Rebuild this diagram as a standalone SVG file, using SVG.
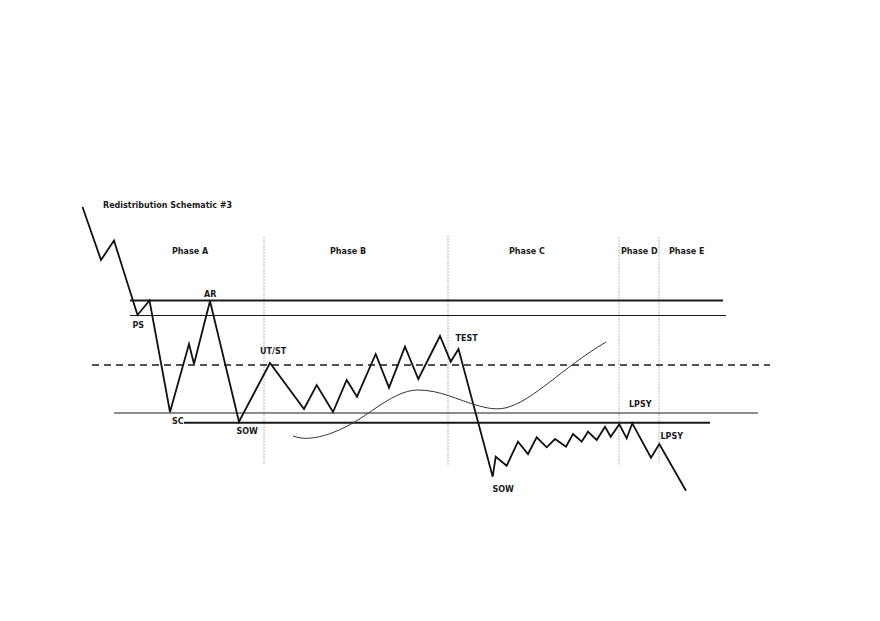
<svg xmlns="http://www.w3.org/2000/svg" width="880" height="621" viewBox="0 0 880 621">
<style>
text{font-family:"DejaVu Sans","Liberation Sans",sans-serif;font-weight:bold;font-size:8px;fill:#1a1a1a}
.thick{stroke:#1a1a1a;stroke-width:2;fill:none}
.thin{stroke:#1a1a1a;stroke-width:1.2;fill:none}
.dash{stroke:#1a1a1a;stroke-width:1.5;stroke-dasharray:7 5;fill:none}
.vdot{stroke:#b8b8b8;stroke-width:1;stroke-dasharray:2 1;fill:none}
.price{stroke:#111;stroke-width:1.8;fill:none;stroke-linejoin:miter}
.curve{stroke:#333;stroke-width:1;fill:none}
</style>
<rect width="880" height="621" fill="#fff"/>
<g id="phase-dividers">
<line class="vdot" x1="264" y1="237" x2="264" y2="465"/>
<line class="vdot" x1="448" y1="235" x2="448" y2="466"/>
<line class="vdot" x1="619" y1="237" x2="619" y2="466"/>
<line class="vdot" x1="659" y1="237" x2="659" y2="463"/>
</g>
<g id="levels">
<line class="thick" x1="130" y1="300.5" x2="723" y2="300.5"/>
<line class="thin" x1="130" y1="315.5" x2="726" y2="315.5"/>
<line class="dash" x1="92" y1="365" x2="770" y2="365"/>
<line class="thin" x1="114" y1="413" x2="758" y2="413"/>
<line class="thick" x1="184" y1="422.7" x2="710" y2="422.7"/>
</g>
<g id="connectors">
<polyline id="price" class="price" points="82.5,207 101,260 114,240.5 137.5,315 149.5,300.5 170,412 189,344 194,364 210,301 239,421.7 270,363 304,409 316.7,385 333,412 346.7,380 357,396.7 375.7,354 389,387.7 405,346.7 418.3,379 440,336 450.7,361.7 458.5,349 492.7,476.7 495.7,456.7 506.7,465.7 518,441.7 528,454 536.7,437.3 546.7,447.3 555,439 566,446.7 573,434 581.7,441.7 588,431.7 596.7,440 605,426.7 610.7,436.7 619.3,424.3 626.7,438.3 632.3,423.3 651,457.7 659.3,444 686,490.7"/>
<path id="trend-curve" class="curve" d="M293,436 C313,444 345,430 370,412 C390,398 404,390 418,390 C440,390 458,400 476,405 C486,408 495,410 505,408 C532,402 562,368 606,342"/>
</g>
<g id="labels">
<text x="103" y="207.5">Redistribution Schematic #3</text>
<text x="172" y="254">Phase A</text>
<text x="330" y="254">Phase B</text>
<text x="509" y="254">Phase C</text>
<text x="621" y="254">Phase D</text>
<text x="669" y="254">Phase E</text>
<text x="204" y="296.5">AR</text>
<text x="132.5" y="327.5">PS</text>
<text x="172" y="423.5">SC</text>
<text x="236.5" y="434">SOW</text>
<text x="260" y="353.5">UT/ST</text>
<text x="455.5" y="340.5">TEST</text>
<text x="492.5" y="491.5">SOW</text>
<text x="629" y="406.5">LPSY</text>
<text x="660.5" y="438.5">LPSY</text>
</g>
</svg>
